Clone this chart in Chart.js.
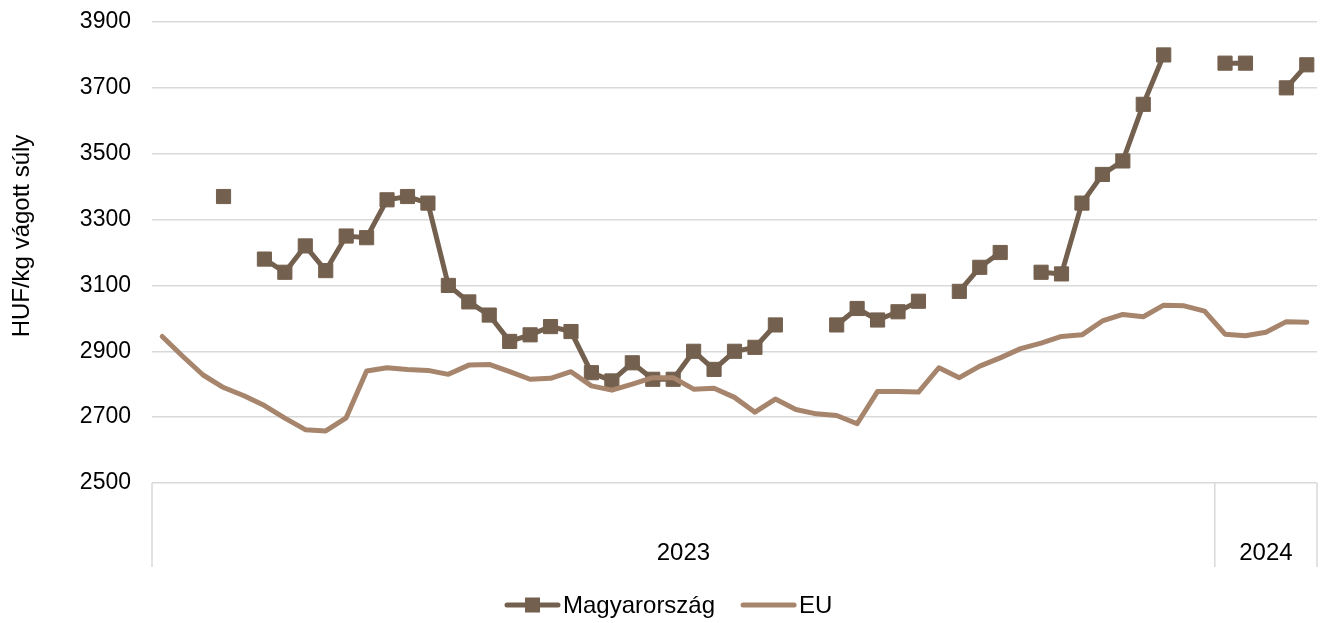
<!DOCTYPE html>
<html>
<head>
<meta charset="utf-8">
<script src="https://cdn.jsdelivr.net/npm/chart.js@4.4.1/dist/chart.umd.min.js"></script>
<style>
  html, body { margin: 0; padding: 0; background: #fff; }
  #chart { display: block; }
</style>
</head>
<body>
<canvas id="chart" width="1320" height="623"></canvas>
<script>
// Weekly pig carcass prices, 2023 week 1 .. 2024 week 5
const years = ['2023', '2024'];
const weeksPerYear = [52, 5];
const weekLabels = [];
years.forEach((y, k) => {
    for (let w = 1; w <= weeksPerYear[k]; w++) weekLabels.push(y + '/' + w);
});

const yMin = 2500;
const yMax = 3900;
const yStep = 200;
const yTitle = 'HUF/kg vágott súly';

const magyarorszag = [
    null, null, null, 3370, null, 3180, 3140, 3220, 3145, 3250,
    3245, 3360, 3370, 3350, 3100, 3050, 3010, 2930, 2950, 2975,
    2960, 2835, 2810, 2865, 2815, 2815, 2900, 2845, 2900, 2912,
    2980, null, null, 2980, 3030, 2995, 3020, 3052, null, 3082,
    3155, 3200, null, 3140, 3135, 3350, 3437, 3478, 3650, 3800,
    null, null, 3775, 3775, null, 3700, 3770
];

const eu = [
    2945, 2885, 2828, 2790, 2765, 2735, 2697, 2662, 2658, 2698,
    2840, 2850, 2845, 2842, 2830, 2858, 2860, 2838, 2815, 2818,
    2838, 2795, 2782, 2800, 2820, 2820, 2785, 2788, 2760, 2715,
    2755, 2723, 2710, 2705, 2680, 2778, 2778, 2776, 2850, 2820,
    2855, 2880, 2908, 2925, 2945, 2950, 2992, 3012, 3005, 3040,
    3038, 3022, 2952, 2947, 2958, 2990, 2988
];

const huColor = '#74604e';
const euColor = '#a6856c';
const textColor = '#000000';
const gridColor = '#d9d9d9';
const fontFamily = '"Liberation Sans", Arial, sans-serif';
const tickFontSize = 23;
const labelFontSize = 24;

// year groups under the axis, y title and legend
const extrasPlugin = {
    id: 'extras',
    afterDraw(chart) {
        const { ctx, chartArea } = chart;
        const x = chart.scales.x;
        const bottom = chartArea.bottom;
        const groupBottom = bottom + 84;

        const bounds = [chartArea.left];
        let count = 0;
        weeksPerYear.forEach(n => {
            count += n;
            if (count < weekLabels.length) {
                bounds.push((x.getPixelForValue(count - 1) + x.getPixelForValue(count)) / 2);
            } else {
                bounds.push(chartArea.right);
            }
        });

        ctx.save();
        ctx.strokeStyle = gridColor;
        ctx.lineWidth = 1.5;
        bounds.forEach(b => {
            ctx.beginPath();
            ctx.moveTo(b, bottom);
            ctx.lineTo(b, groupBottom);
            ctx.stroke();
        });

        ctx.fillStyle = textColor;
        ctx.font = labelFontSize + 'px ' + fontFamily;
        ctx.textAlign = 'center';
        ctx.textBaseline = 'middle';
        years.forEach((y, k) => ctx.fillText(y, (bounds[k] + bounds[k + 1]) / 2, bottom + 70));

        ctx.save();
        ctx.translate(22, 236);
        ctx.rotate(-Math.PI / 2);
        ctx.fillText(yTitle, 0, 0);
        ctx.restore();

        // legend
        let lx = 505;
        const ly = 605;
        ctx.textAlign = 'left';
        chart.data.datasets.forEach(ds => {
            ctx.strokeStyle = ds.borderColor;
            ctx.lineWidth = ds.borderWidth;
            ctx.lineCap = 'round';
            ctx.beginPath();
            ctx.moveTo(lx + 2, ly);
            ctx.lineTo(lx + 53, ly);
            ctx.stroke();
            if (ds.pointRadius > 0) {
                ctx.fillStyle = ds.borderColor;
                ctx.fillRect(lx + 20, ly - 7.5, 15, 15);
            }
            ctx.fillStyle = textColor;
            ctx.fillText(ds.label, lx + 58, ly + 1);
            lx += 58 + ctx.measureText(ds.label).width + 26;
        });
        ctx.restore();
    }
};

Chart.defaults.font.family = fontFamily;
Chart.defaults.font.size = tickFontSize;
Chart.defaults.color = textColor;

const ctx = document.getElementById('chart').getContext('2d');
new Chart(ctx, {
    type: 'line',
    data: {
        labels: weekLabels,
        datasets: [
            {
                label: 'Magyarország',
                data: magyarorszag,
                borderColor: huColor,
                backgroundColor: huColor,
                borderWidth: 5,
                pointStyle: 'rect',
                pointRadius: 10,
                pointBorderWidth: 1,
                pointBackgroundColor: huColor,
                pointBorderColor: huColor,
                spanGaps: false,
                fill: false,
                tension: 0,
                order: 1
            },
            {
                label: 'EU',
                data: eu,
                borderColor: euColor,
                backgroundColor: euColor,
                borderWidth: 5,
                borderCapStyle: 'round',
                borderJoinStyle: 'round',
                pointRadius: 0,
                fill: false,
                tension: 0,
                order: 0
            }
        ]
    },
    options: {
        responsive: false,
        devicePixelRatio: 1,
        animation: false,
        layout: {
            autoPadding: false,
            padding: { top: 22, right: 3, left: 0, bottom: 0 }
        },
        plugins: {
            legend: { display: false },
            tooltip: { enabled: false }
        },
        scales: {
            x: {
                offset: true,
                ticks: { display: false },
                grid: { display: false },
                border: { display: false },
                afterFit: (scale) => {
                    scale.height = 140;
                    scale.paddingLeft = 0;
                    scale.paddingRight = 0;
                }
            },
            y: {
                min: yMin,
                max: yMax,
                ticks: {
                    stepSize: yStep,
                    padding: 21,
                    color: textColor,
                    callback: (value) => String(value)
                },
                grid: { color: gridColor, lineWidth: 1.5, drawTicks: false },
                border: { display: false },
                afterFit: (scale) => {
                    scale.width = 152;
                    scale.paddingTop = 0;
                    scale.paddingBottom = 0;
                }
            }
        }
    },
    plugins: [extrasPlugin]
});
</script>
</body>
</html>
